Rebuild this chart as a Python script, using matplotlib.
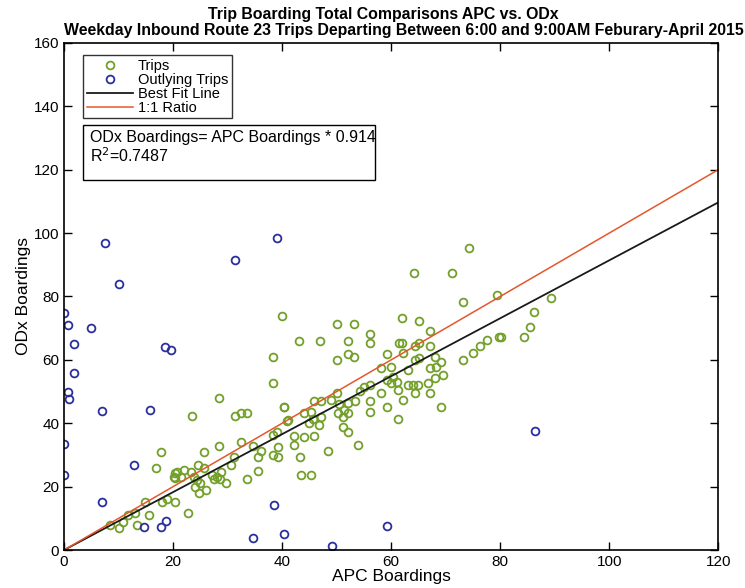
import numpy as np
import matplotlib.pyplot as plt
from matplotlib.patches import Rectangle

# abordajes por viaje: APC (x) vs ODx (y)
trips_apc = [8.5, 10.0, 10.9, 11.8, 13.1, 13.3, 15.5, 14.9, 18.0, 18.9, 20.4, 17.7, 16.8, 22.8,
             20.4, 20.4, 20.8, 20.1, 21.4, 22.0, 23.2, 23.8, 24.4, 25.0, 24.1, 24.7, 26.0, 24.6,
             25.7, 25.7, 23.5, 27.2, 28.1, 28.7, 28.6, 27.5, 29.7, 28.4, 28.4, 30.6, 31.2, 32.4,
             31.4, 32.4, 33.5, 33.5, 34.6, 35.5, 35.6, 36.2, 38.4, 39.3, 39.2, 38.4, 39.0, 40.9,
             40.3, 38.4, 38.4, 40.0,
             43.1, 47.0, 52.1, 56.2, 56.2, 50.1, 53.2, 50.1, 52.1, 53.2, 59.3, 61.4, 58.1, 60.0,
             59.3, 61.0, 58.2, 56.2, 55.1, 54.2, 56.2, 53.4, 52.1, 50.1, 49.0, 47.1, 45.9, 50.5,
             51.4, 50.2, 52.1, 56.2, 59.3, 61.3, 51.1, 51.1, 52.1, 53.9, 48.4, 45.9, 44.1, 42.2,
             42.2, 43.3, 46.8, 47.1, 45.6, 45.3, 45.0, 44.0, 41.1, 40.4, 43.5, 45.3,
             64.2, 71.1, 73.2, 79.4, 62.0, 65.1, 67.1, 62.0, 64.3, 65.2, 67.1, 62.2, 64.3, 65.2,
             68.0, 69.2, 68.3, 67.1, 63.1, 60.3, 69.5, 68.0, 66.8, 64.9, 64.0, 63.1, 61.3, 60.0,
             64.3, 67.1, 62.2, 69.2, 73.2, 75.1, 76.3, 77.5, 79.8, 74.3,
             89.4, 86.3, 85.5, 84.3, 80.2]
trips_odx = [7.9, 7.0, 8.9, 11.0, 11.8, 7.9, 11.0, 15.2, 15.2, 16.0, 15.2, 30.8, 25.8, 11.8,
             24.2, 22.6, 24.7, 23.1, 23.1, 25.2, 24.7, 23.1, 22.1, 21.0, 20.0, 17.9, 18.9, 26.8,
             25.8, 31.0, 42.3, 23.7, 23.1, 24.7, 22.3, 22.3, 21.2, 32.9, 47.9, 26.8, 29.2, 34.0,
             42.3, 43.1, 43.1, 22.3, 32.9, 29.2, 25.0, 31.3, 30.0, 29.2, 32.6, 36.3, 37.3, 40.8,
             45.2, 52.8, 60.8, 74.0,
             66.0, 66.0, 66.0, 68.1, 65.2, 71.3, 71.3, 59.9, 61.8, 60.8, 61.8, 65.2, 57.3, 57.6,
             53.6, 53.1, 49.4, 52.0, 51.3, 50.3, 47.1, 47.1, 46.5, 49.4, 47.3, 47.1, 47.1, 46.1,
             44.2, 43.1, 43.1, 43.6, 45.0, 41.2, 41.9, 38.9, 37.3, 33.1, 31.3, 36.0, 35.6, 36.0,
             33.1, 29.4, 39.4, 42.1, 41.2, 43.6, 40.0, 43.3, 41.0, 45.0, 23.7, 23.7,
             87.3, 87.3, 78.3, 80.4, 73.1, 72.3, 69.2, 65.4, 64.4, 65.2, 64.4, 62.1, 59.9, 60.5,
             61.0, 59.4, 57.8, 57.3, 56.8, 54.7, 55.2, 54.2, 52.6, 52.1, 52.1, 52.1, 50.5, 52.6,
             49.4, 49.4, 47.3, 45.2, 60.1, 62.1, 64.4, 66.2, 67.3, 95.4,
             79.4, 75.2, 70.4, 67.1, 67.1]

# viajes atipicos
out_apc = [7.5, 10.0, 0.0, 0.7, 5.0, 1.9, 1.9, 0.8, 0.9, 7.0, 0.0, 0.0, 7.0,
           39.0, 31.3, 18.5, 19.7, 15.7, 12.9, 14.7, 17.8, 18.7,
           34.6, 38.5, 40.4, 49.2, 59.3, 86.4]
out_odx = [96.8, 84.1, 74.8, 70.9, 70.0, 64.9, 56.0, 49.9, 47.5, 43.9, 33.6, 23.7, 15.0,
           98.4, 91.5, 64.1, 63.1, 44.1, 26.8, 7.2, 7.2, 9.0,
           3.8, 14.3, 5.0, 1.3, 7.6, 37.5]

pendiente = 0.914
r2 = 0.7487
x_lin = np.array([0, 120])

fig = plt.figure(figsize=(7.45, 5.88), dpi=100)
ax = fig.add_axes([0.086, 0.0646, 0.878, 0.8623])

ms = 5.6
ax.plot(trips_apc, trips_odx, 'o', mfc='none', mec='#73a02a', mew=1.3, ms=ms, label='Trips')
ax.plot(out_apc, out_odx, 'o', mfc='none', mec='#2b2f9c', mew=1.3, ms=ms, label='Outlying Trips')
ax.plot(x_lin, pendiente*x_lin, color='#1a1a1a', lw=1.3, label='Best Fit Line')
ax.plot(x_lin, x_lin, color='#e4572c', lw=1.1, label='1:1 Ratio')

ax.set_xlim(0, 120)
ax.set_ylim(0, 160)
ax.set_xticks(np.arange(0, 121, 20))
ax.set_yticks(np.arange(0, 161, 20))
ax.tick_params(direction='in', top=True, right=True, length=6, width=1, labelsize=11)
for s in ax.spines.values():
    s.set_linewidth(1.2)

fuente = ['Liberation Sans', 'DejaVu Sans']
ax.set_xlabel('APC Boardings', fontsize=12.5, family=fuente, labelpad=0)
ax.set_ylabel('ODx Boardings', fontsize=12.5, family=fuente, labelpad=2)
for lab in ax.get_xticklabels() + ax.get_yticklabels():
    lab.set_family(fuente)

# titulo en dos renglones
fig.text(383/745, 1 - 15/588, 'Trip Boarding Total Comparisons APC vs. ODx',
         ha='center', va='center', fontsize=11.4, fontweight='bold', family=fuente)
fig.text(404/745, 1 - 31/588,
         'Weekday Inbound Route 23 Trips Departing Between 6:00 and 9:00AM Feburary-April 2015',
         ha='center', va='center', fontsize=11.4, fontweight='bold', family=fuente)

leg = ax.legend(loc='upper left', bbox_to_anchor=(0.029, 0.976),
                prop={'family': fuente, 'size': 10.5}, frameon=True, fancybox=False,
                edgecolor='black', borderpad=0.25, labelspacing=0.0, handlelength=3.2,
                handletextpad=0.3, borderaxespad=0)
leg.get_frame().set_linewidth(1.0)

# cuadro con la ecuacion del ajuste
ax.add_patch(Rectangle((0.029, 0.730), 0.447, 0.108, transform=ax.transAxes,
                       fill=False, ec='black', lw=1.0, zorder=5))
ax.text(0.040, 0.828, f'ODx Boardings= APC Boardings * {pendiente}\nR$^2$={r2}',
        transform=ax.transAxes, va='top', ha='left', fontsize=11.5, family=fuente,
        linespacing=1.1)

fig.savefig('out.png', dpi=100)
